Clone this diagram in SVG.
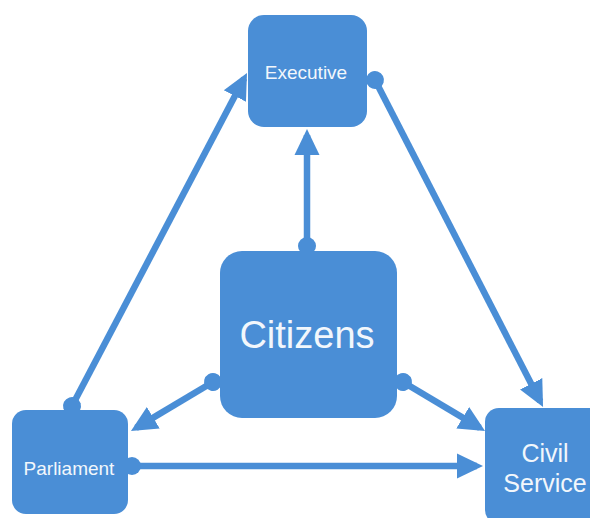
<svg xmlns="http://www.w3.org/2000/svg" width="590" height="518" viewBox="0 0 590 518">
  <style>
    .node { fill: #4a8ed6; }
    .label { fill: #f2f7fc; font-family: "Liberation Sans", Arial, sans-serif; text-anchor: middle; }
    .link { stroke: #4a8ed6; stroke-width: 6.5; fill: none; marker-start: url(#dot); marker-end: url(#arrow); }
  </style>
  <defs>
    <marker id="arrow" markerUnits="userSpaceOnUse" viewBox="0 -15 30 30" markerWidth="30" markerHeight="30" refX="20" refY="0" orient="auto">
      <path d="M0,-12.5 L26,0 L0,12.5 Z" fill="#4a8ed6"/>
    </marker>
    <marker id="dot" markerUnits="userSpaceOnUse" viewBox="-10 -10 20 20" markerWidth="20" markerHeight="20" refX="0" refY="0" orient="auto">
      <circle cx="0" cy="0" r="9" fill="#4a8ed6"/>
    </marker>
  </defs>

  <rect width="590" height="518" fill="#ffffff"/>

  <g id="connectors">
    <line class="link" x1="307" y1="246" x2="307" y2="135"/>
    <line class="link" x1="72" y1="406" x2="244.2" y2="78.3"/>
    <line class="link" x1="375" y1="80" x2="540.3" y2="401.6"/>
    <line class="link" x1="213" y1="382" x2="136.1" y2="427.9"/>
    <line class="link" x1="403" y1="382" x2="479.9" y2="427.9"/>
    <line class="link" x1="132" y1="466" x2="477" y2="466"/>
  </g>

  <g id="executive">
    <rect class="node" x="248" y="15" width="119" height="112" rx="16"/>
    <text class="label" x="306" y="79" font-size="19">Executive</text>
  </g>

  <g id="citizens">
    <rect class="node" x="220" y="251" width="177" height="167" rx="22"/>
    <text class="label" x="307" y="348" font-size="38">Citizens</text>
  </g>

  <g id="parliament">
    <rect class="node" x="12" y="410" width="116" height="104" rx="14"/>
    <text class="label" x="69" y="475" font-size="19">Parliament</text>
  </g>

  <g id="civil-service">
    <rect class="node" x="485" y="408" width="120" height="116" rx="14"/>
    <text class="label" x="545" y="462" font-size="25">Civil</text>
    <text class="label" x="545" y="492" font-size="25">Service</text>
  </g>
</svg>
